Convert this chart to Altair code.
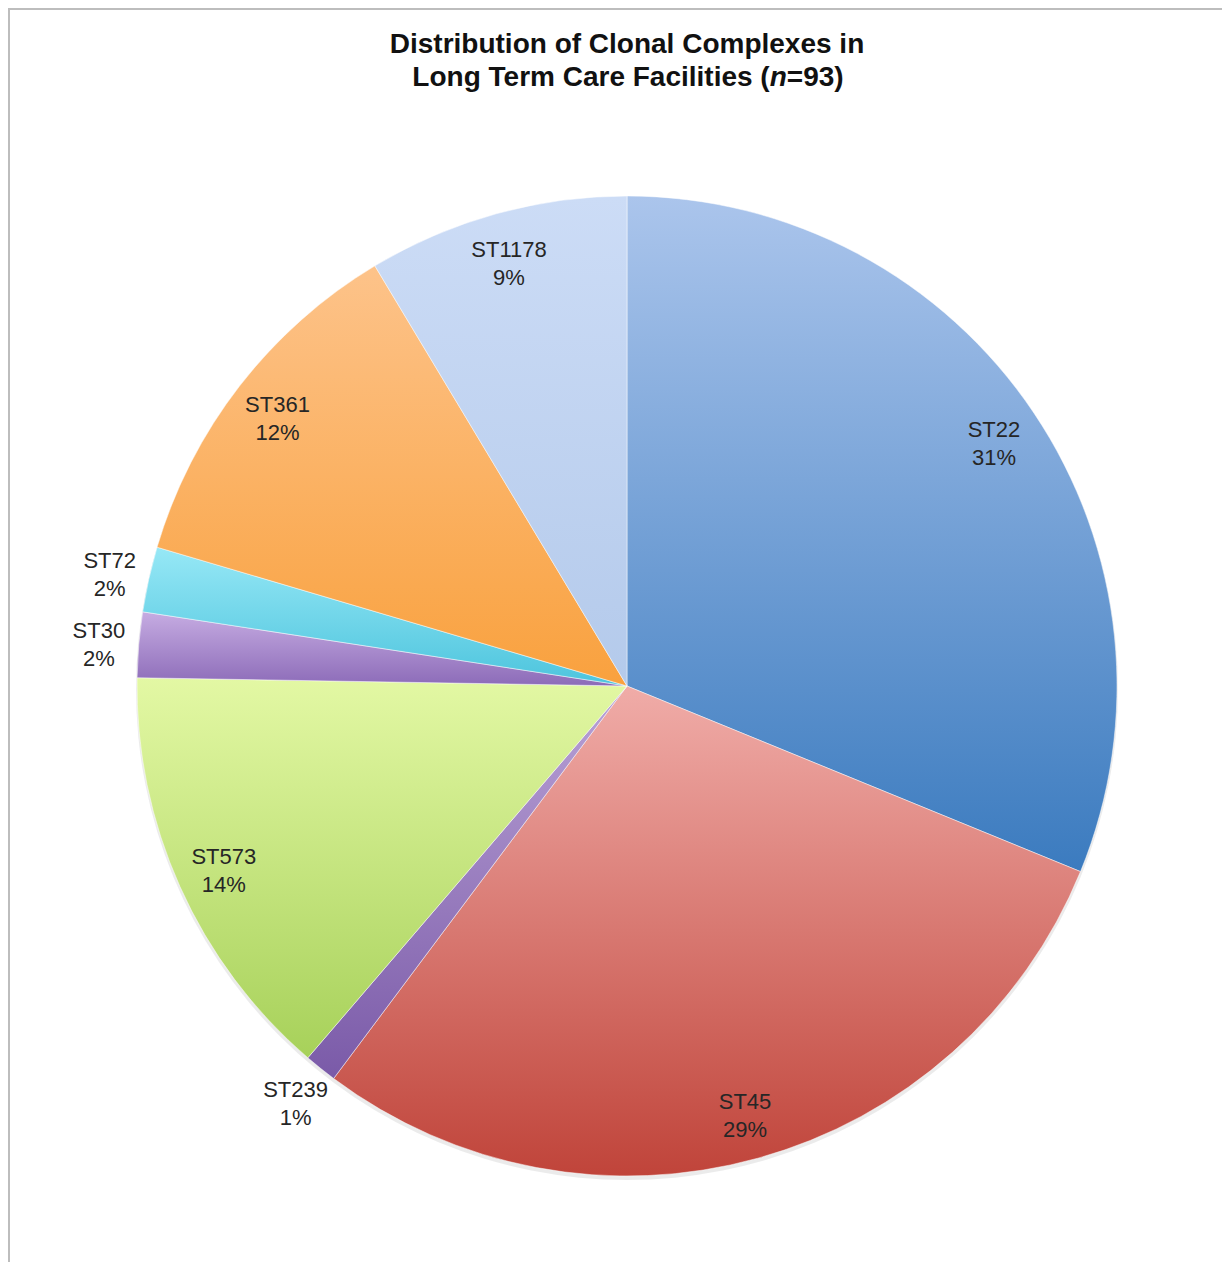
import altair as alt
import pandas as pd

# Data (counts out of n=93, read from the percentages)
categories = ["ST22", "ST45", "ST239", "ST573", "ST30", "ST72", "ST361", "ST1178"]
counts = [29, 27, 1, 13, 2, 2, 11, 8]
top_colors = ["#abc5ec", "#f0aca8", "#b9a2d6", "#e3f8a4", "#c6ace2", "#97e8f6", "#fdc38a", "#ccdcf6"]
bottom_colors = ["#3b7bbf", "#c0443a", "#7a5aa8", "#a7d15a", "#8c6bb8", "#4cc4dd", "#f9a13e", "#b4caeb"]
title_line1 = "Distribution of Clonal Complexes in"
title_line2 = ["Long Term Care Facilities (", "n", "=93)"]

df = pd.DataFrame({"cat": categories, "count": counts, "idx": list(range(len(categories)))})

PAD_TOP = 110
W, H = 1214, 1254 - PAD_TOP
CX, CY = 619, 686 - 8 - PAD_TOP
R = 490

base = alt.Chart(df)

def grad(c0, c1):
    return alt.LinearGradient(
        gradient="linear",
        stops=[alt.GradientStop(color=c0, offset=0), alt.GradientStop(color=c1, offset=1)],
        x1=0, x2=0, y1=0, y2=1,
    )

shadow = base.mark_arc(radius=R + 1, color="#000000", opacity=0.08).encode(
    theta=alt.value(0), theta2=alt.value(6.2832),
    x=alt.value(CX), y=alt.value(CY + 3),
).transform_filter(alt.datum.idx == 0)

slices = []
for i, cat in enumerate(categories):
    slices.append(
        base.mark_arc(
            radius=R, fill=grad(top_colors[i], bottom_colors[i]),
            stroke="#ffffff", strokeWidth=0.8, strokeOpacity=0.6,
        ).encode(
            theta=alt.Theta("t0:Q", scale=None),
            theta2="t1:Q",
            x=alt.value(CX), y=alt.value(CY),
        ).transform_filter(alt.datum.cat == cat)
    )

labels = base.mark_text(
    font="Liberation Sans", fontSize=22, lineHeight=28, lineBreak="\n",
    color="#262626", align="center", baseline="middle", dy=-10,
).encode(
    theta=alt.Theta("tm:Q", scale=None),
    radius=alt.Radius("rr:Q", scale=None),
    text="lab:N",
    x=alt.value(CX), y=alt.value(CY),
)

tstyle = dict(font="Liberation Sans", fontSize=28, fontWeight="bold", color="#111111", baseline="middle")
Y1 = 45 - 8 - PAD_TOP
Y2 = 78 - 8 - PAD_TOP
one = alt.datum.idx == 0
t1 = base.mark_text(align="center", **tstyle).encode(
    text=alt.value(title_line1), x=alt.value(CX), y=alt.value(Y1)).transform_filter(one)
t2a = base.mark_text(align="right", **tstyle).encode(
    text=alt.value(title_line2[0]), x=alt.value(761.7), y=alt.value(Y2)).transform_filter(one)
t2b = base.mark_text(align="left", fontStyle="italic", **tstyle).encode(
    text=alt.value(title_line2[1]), x=alt.value(761.7), y=alt.value(Y2)).transform_filter(one)
t2c = base.mark_text(align="left", **tstyle).encode(
    text=alt.value(title_line2[2]), x=alt.value(778.8), y=alt.value(Y2)).transform_filter(one)

frame_top = base.mark_rule(color="#bdbdbd", strokeWidth=2).encode(
    x=alt.value(0), x2=alt.value(W), y=alt.value(1 - PAD_TOP)
).transform_filter(one)
frame_left = base.mark_rule(color="#bdbdbd", strokeWidth=2).encode(
    x=alt.value(1), y=alt.value(-PAD_TOP), y2=alt.value(H)
).transform_filter(one)

chart = alt.layer(shadow, *slices, labels, t1, t2a, t2b, t2c, frame_top, frame_left).transform_joinaggregate(
    total="sum(count)"
).transform_window(
    cum="sum(count)", sort=[alt.SortField("idx")], frame=[None, 0]
).transform_calculate(
    t0="(datum.cum - datum.count) / datum.total * 2 * PI",
    t1="datum.cum / datum.total * 2 * PI",
    tm="(datum.cum - datum.count / 2) / datum.total * 2 * PI",
    rr="datum.count <= 2 ? 530 : 442",
    lab="datum.cat + '\\n' + round(datum.count / datum.total * 100) + '%'",
).properties(
    width=W, height=H,
    autosize=alt.AutoSizeParams(type="none"),
    padding={"left": 0, "top": PAD_TOP, "right": 0, "bottom": 0},
).configure_view(stroke=None)

chart.save("out.html", embed_options={"renderer": "svg", "actions": False})
